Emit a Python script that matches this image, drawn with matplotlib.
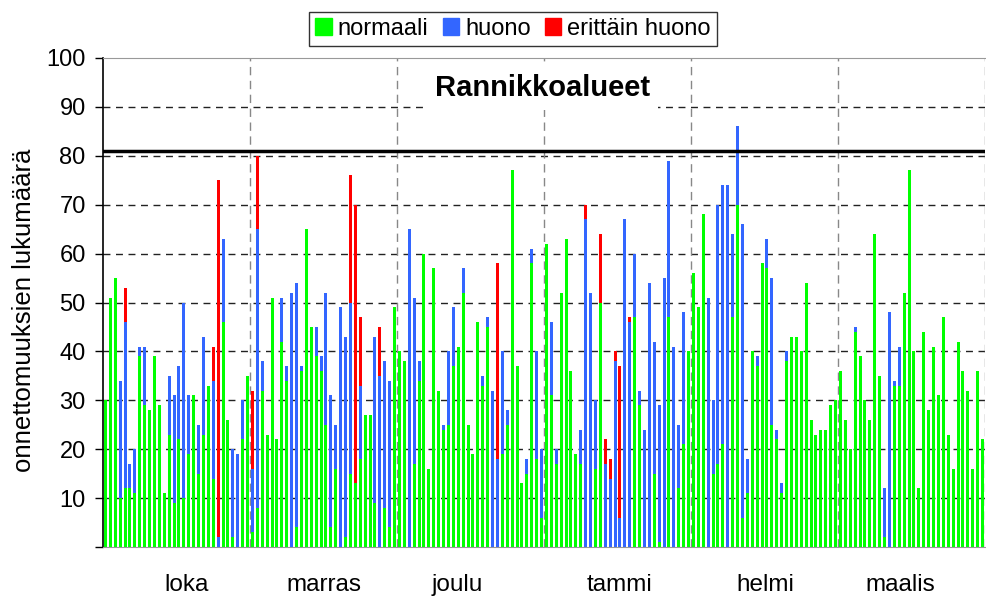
import numpy as np
import matplotlib
matplotlib.use('Agg')
import matplotlib.pyplot as plt
import matplotlib.transforms as mtransforms
from matplotlib.patches import Patch

plt.rcParams['font.family'] = ['Liberation Sans', 'DejaVu Sans']

# onnettomuudet / vrk, 180 paivaa (loka - maalis), 30 pylvasta / kk
normaali = [30, 51, 55, 10, 12, 12, 11, 39, 29, 28, 39, 29, 11, 23, 9, 22, 10, 19, 31, 15,
            23, 33, 14, 0, 46, 26, 2, 0, 22, 35,
            3, 8, 32, 23, 51, 22, 42, 34, 0, 4, 36, 65, 45, 39, 36, 25, 4, 16, 0, 2,
            15, 13, 18, 27, 27, 9, 0, 8, 4, 49,
            40, 38, 0, 17, 34, 60, 16, 57, 32, 24, 25, 37, 41, 52, 25, 19, 46, 33, 45, 0,
            0, 19, 25, 77, 37, 13, 15, 58, 18, 6,
            62, 31, 17, 52, 63, 36, 19, 17, 0, 0, 16, 50, 0, 0, 0, 0, 0, 0, 47, 29,
            0, 0, 15, 1, 0, 47, 0, 12, 21, 40,
            56, 49, 68, 0, 15, 17, 21, 0, 47, 70, 6, 11, 40, 37, 58, 57, 25, 22, 11, 38,
            43, 43, 40, 54, 26, 23, 24, 24, 29, 30,
            36, 26, 20, 44, 39, 30, 26, 64, 35, 2, 0, 33, 33, 52, 77, 40, 12, 44, 28, 41,
            31, 47, 23, 16, 42, 36, 32, 16, 36, 22]

huono = [0, 0, 0, 24, 34, 5, 9, 2, 12, 0, 0, 0, 0, 12, 22, 15, 40, 12, 0, 10,
         20, 0, 20, 2, 17, 0, 18, 19, 8, 0,
         13, 57, 6, 0, 0, 0, 9, 3, 52, 50, 1, 0, 0, 6, 3, 27, 27, 9, 49, 41,
         35, 0, 15, 0, 0, 34, 35, 30, 30, 0,
         0, 0, 65, 34, 4, 0, 0, 0, 0, 1, 15, 12, 0, 5, 0, 0, 0, 2, 2, 32,
         18, 21, 3, 0, 0, 0, 3, 3, 22, 14,
         0, 15, 3, 0, 0, 0, 0, 7, 67, 52, 14, 0, 17, 14, 38, 6, 67, 46, 13, 3,
         24, 54, 27, 28, 55, 32, 41, 13, 27, 0,
         0, 0, 0, 51, 15, 53, 53, 74, 17, 16, 60, 7, 0, 2, 0, 6, 30, 2, 2, 2,
         0, 0, 0, 0, 0, 0, 0, 0, 0, 0,
         0, 0, 0, 1, 0, 0, 0, 0, 0, 10, 48, 1, 8, 0, 0, 0, 0, 0, 0, 0,
         0, 0, 0, 0, 0, 0, 0, 0, 0, 0]

erittain_huono = [0, 0, 0, 0, 7, 0, 0, 0, 0, 0, 0, 0, 0, 0, 0, 0, 0, 0, 0, 0,
                  0, 0, 7, 73, 0, 0, 0, 0, 0, 0,
                  16, 15, 0, 0, 0, 0, 0, 0, 0, 0, 0, 0, 0, 0, 0, 0, 0, 0, 0, 0,
                  26, 57, 14, 0, 0, 0, 10, 0, 0, 0,
                  0, 0, 0, 0, 0, 0, 0, 0, 0, 0, 0, 0, 0, 0, 0, 0, 0, 0, 0, 0,
                  40, 0, 0, 0, 0, 0, 0, 0, 0, 0,
                  0, 0, 0, 0, 0, 0, 0, 0, 3, 0, 0, 14, 5, 4, 2, 31, 0, 1, 0, 0,
                  0, 0, 0, 0, 0, 0, 0, 0, 0, 0,
                  0, 0, 0, 0, 0, 0, 0, 0, 0, 0, 0, 0, 0, 0, 0, 0, 0, 0, 0, 0,
                  0, 0, 0, 0, 0, 0, 0, 0, 0, 0,
                  0, 0, 0, 0, 0, 0, 0, 0, 0, 0, 0, 0, 0, 0, 0, 0, 0, 0, 0, 0,
                  0, 0, 0, 0, 0, 0, 0, 0, 0, 0]

kuukaudet = ['loka', 'marras', 'joulu', 'tammi', 'helmi', 'maalis']
kk_paikat = [17.1, 45.0, 72.2, 105.4, 135.2, 162.7]
raja = 81

VIHREA = '#00FF00'
SININEN = '#3366FF'
PUNAINEN = '#FF0000'

g = np.array(normaali, dtype=float)
b = np.array(huono, dtype=float)
r = np.array(erittain_huono, dtype=float)
x = np.arange(len(g)) + 0.5

fig = plt.figure(figsize=(9.86, 5.97), dpi=100)
ax = fig.add_axes([103/986, 50/597, 882/986, 489/597])

# ruudukko
for yy in range(10, 100, 10):
    ax.axhline(yy, color='#222222', lw=1, ls=(0, (5, 4)), zorder=1)
for xx in range(30, 181, 30):
    ax.axvline(xx, color='#888888', lw=1, ls=(0, (6, 4)), zorder=1)

w = 0.62
ax.bar(x, g, width=w, color=VIHREA, lw=0, zorder=2)
ax.bar(x, b, width=w, bottom=g, color=SININEN, lw=0, zorder=2)
ax.bar(x, r, width=w, bottom=g + b, color=PUNAINEN, lw=0, zorder=2)

ax.axhline(raja, color='black', lw=2.5, zorder=3)

ax.set_xlim(0, 180)
ax.set_ylim(0, 100)
ax.set_yticks(range(0, 101, 10))
ax.set_yticklabels([str(v) if v > 0 else '' for v in range(0, 101, 10)])
ax.set_xticks([])
ax.tick_params(axis='y', direction='out', length=5.5, width=1, pad=7, labelsize=17)
for s in ['top', 'bottom']:
    ax.spines[s].set_color('#999999')
ax.spines['right'].set_visible(False)
ax.spines['left'].set_color('black')
ax.spines['left'].set_linewidth(1.2)

trans = mtransforms.blended_transform_factory(ax.transData, ax.transAxes)
for kk, px in zip(kuukaudet, kk_paikat):
    ax.text(px, -0.078, kk, transform=trans, ha='center', va='center', fontsize=17.5)

ax.text(0.498, 0.939, 'Rannikkoalueet', transform=ax.transAxes, ha='center', va='center',
        fontsize=21, fontweight='bold', zorder=5,
        bbox=dict(facecolor='white', edgecolor='none', pad=6))

fig.text(24/986, 1 - 310/597, 'onnettomuuksien lukumäärä', rotation=90,
         ha='center', va='center', fontsize=18.5)

kahvat = [Patch(color=VIHREA, label='normaali'),
          Patch(color=SININEN, label='huono'),
          Patch(color=PUNAINEN, label='erittäin huono')]
leg = fig.legend(handles=kahvat, loc='center', bbox_to_anchor=(513/986, 1 - 29/597), ncol=3,
                 fontsize=17, frameon=True, fancybox=False, edgecolor='black',
                 handlelength=0.7, handleheight=0.7, handletextpad=0.25,
                 columnspacing=0.6, borderpad=0.25, borderaxespad=0)
leg.get_frame().set_linewidth(1)

fig.savefig('out.png', dpi=100)
